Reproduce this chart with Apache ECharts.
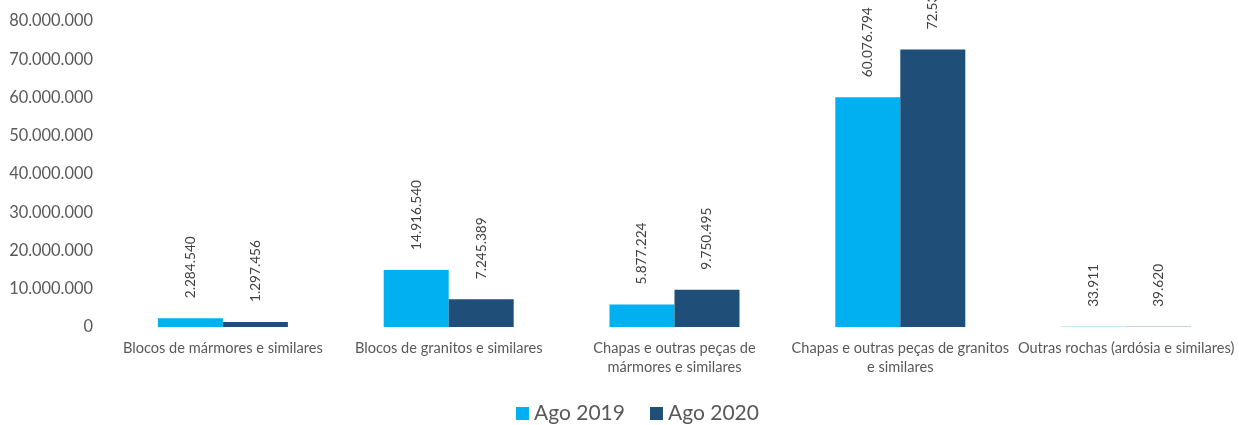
<!DOCTYPE html>
<html><head><meta charset="utf-8">
<script src="https://cdn.jsdelivr.net/npm/echarts@6/dist/echarts.min.js"></script>
<style>html,body{margin:0;padding:0;background:#fff}#c{width:1239px;height:425px}</style>
</head><body><div id="c"></div>
<script>
const categories = [
  'Blocos de mármores e similares',
  'Blocos de granitos e similares',
  'Chapas e outras peças de\nmármores e similares',
  'Chapas e outras peças de granitos\ne similares',
  'Outras rochas (ardósia e similares)'
];
const seriesNames = ['Ago 2019', 'Ago 2020'];
const ago2019 = [2284540, 14916540, 5877224, 60076794, 33911];
const ago2020 = [1297456, 7245389, 9750495, 72533520, 39620];
const colors = ['#00B0F0', '#1F4E79'];

function fmt(v){ return String(Math.round(v)).replace(/\B(?=(\d{3})+(?!\d))/g, '.'); }
const FONT = 'Lato';
const chart = echarts.init(document.getElementById('c'), null, {renderer:'canvas'});
const label = {
  show: true, position: 'top', rotate: 90, align: 'left', verticalAlign: 'middle',
  distance: 20, color: '#404040', fontSize: 13.7, fontFamily: FONT,
  formatter: p => fmt(p.value)
};
chart.setOption({
  animation: false,
  backgroundColor: '#fff',
  grid: { left: 110, top: 21, width: 1132, bottom: 98, containLabel: false },
  legend: {
    data: seriesNames, top: 398, left: 511, itemWidth: 13, itemHeight: 13, itemGap: 25,
    icon: 'rect', textStyle: { color: '#595959', fontSize: 21, fontFamily: FONT, padding: [0,0,0,0] }
  },
  xAxis: {
    type: 'category', data: categories,
    axisLine: { show: false }, axisTick: { show: false },
    axisLabel: { color: '#595959', fontSize: 14.6, fontFamily: FONT, margin: 12, interval: 0, lineHeight: 19 }
  },
  yAxis: {
    type: 'value', min: 0, max: 80000000, interval: 10000000,
    splitLine: { show: false }, axisLine: { show: false }, axisTick: { show: false },
    axisLabel: { color: '#595959', fontSize: 16.4, fontFamily: FONT, margin: 17, formatter: v => fmt(v) }
  },
  series: [
    { name: seriesNames[0], type: 'bar', data: ago2019, barWidth: 65, barGap: '0%', itemStyle: { color: colors[0] }, label },
    { name: seriesNames[1], type: 'bar', data: ago2020, barWidth: 65, barGap: '0%', itemStyle: { color: colors[1] }, label }
  ]
});
</script></body></html>
